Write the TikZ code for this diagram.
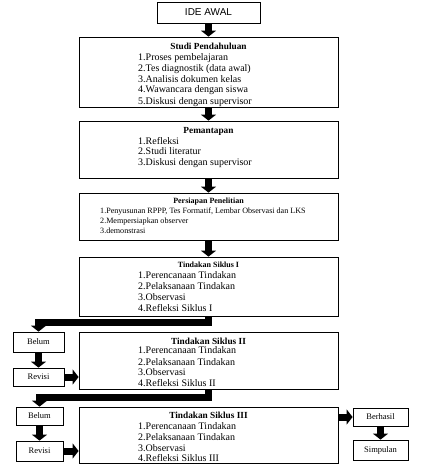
\documentclass[tikz,border=0pt]{standalone}
\usepackage{fontspec}
\setmainfont{Liberation Serif}
\newfontfamily\arialfont{Liberation Sans}
\usetikzlibrary{arrows.meta}
\tikzset{
  box/.style={draw=black, line width=0.8pt, inner sep=0pt, fill=white},
  fat/.style={line width=7pt, line join=miter, -{Triangle[width=15pt 0 0,length=6pt 0 0]}},
  ttl/.style={inner sep=0pt, anchor=base, font=\bfseries\fontsize{9.3}{11}\selectfont},
  ttlsm/.style={inner sep=0pt, anchor=base, font=\bfseries\fontsize{8}{9}\selectfont},
  item/.style={inner sep=0pt, anchor=base west, font=\fontsize{10}{12}\selectfont},
  itemsm/.style={inner sep=0pt, anchor=base west, font=\fontsize{8.1}{9}\selectfont},
  small/.style={font=\fontsize{8.5}{9}\selectfont}
}
\begin{document}
\begin{tikzpicture}[x=1pt,y=-1pt]
\useasboundingbox (0,0) rectangle (421,475);
% boxes
\node[box, minimum width=103pt, minimum height=21pt, font=\arialfont\fontsize{10}{12}\selectfont] (ide) at (208.5,12.5) {IDE AWAL};
\node[box, minimum width=259pt, minimum height=70pt] (studi) at (208.5,72) {};
\node[box, minimum width=259pt, minimum height=57pt] (peman) at (208.5,149.5) {};
\node[box, minimum width=259pt, minimum height=47pt] (persi) at (208.5,216.5) {};
\node[box, minimum width=259pt, minimum height=59pt] (t1) at (208.5,286.5) {};
\node[box, minimum width=259pt, minimum height=57pt] (t2) at (208.5,360.5) {};
\node[box, minimum width=259pt, minimum height=56pt] (t3) at (208.5,435) {};
\node[box, small, minimum width=51pt, minimum height=20pt] (belum1) at (38.5,342) {Belum};
\node[box, small, minimum width=51pt, minimum height=18pt] (revisi1) at (38.5,377) {Revisi};
\node[box, small, minimum width=47pt, minimum height=18pt] (belum2) at (39.5,416) {Belum};
\node[box, small, minimum width=47pt, minimum height=20pt] (revisi2) at (39.5,451) {Revisi};
\node[box, small, minimum width=55pt, minimum height=18pt] (berhasil) at (380.5,417) {Berhasil};
\node[box, small, minimum width=55pt, minimum height=20pt] (simpulan) at (380.5,450) {Simpulan};
% Studi Pendahuluan
\node[ttl] (studiT) at (208.5,49.5) {Studi Pendahuluan};
\node[item] (s1) at (138,60.5) {1.Proses pembelajaran};
\node[item] (s2) at (138,71.5) {2.Tes diagnostik (data awal)};
\node[item] (s3) at (138,82.5) {3.Analisis dokumen kelas};
\node[item] (s4) at (138,92.5) {4.Wawancara dengan siswa};
\node[item] (s5) at (138,104) {5.Diskusi dengan supervisor};
% Pemantapan
\node[ttl] (pemT) at (208.5,133.5) {Pemantapan};
\node[item] (p1) at (138,144.5) {1.Refleksi};
\node[item] (p2) at (138,154.5) {2.Studi literatur};
\node[item] (p3) at (138,165.5) {3.Diskusi dengan supervisor};
% Persiapan
\node[ttlsm] (perT) at (208.5,203.5) {Persiapan Penelitian};
\node[itemsm] (r1) at (100,213.5) {1.Penyusunan RPPP, Tes Formatif, Lembar Observasi dan LKS};
\node[itemsm] (r2) at (100,223.5) {2.Mempersiapkan observer};
\node[itemsm] (r3) at (100,233.5) {3.demonstrasi};
% Siklus I
\node[ttlsm] (t1T) at (208.5,267.5) {Tindakan Siklus I};
\node[item] (a1) at (138,278.5) {1.Perencanaan Tindakan};
\node[item] (a2) at (138,289.5) {2.Pelaksanaan Tindakan};
\node[item] (a3) at (138,300.5) {3.Observasi};
\node[item] (a4) at (138,311.5) {4.Refleksi Siklus I};
% Siklus II
\node[ttl] (t2T) at (208.5,344.5) {Tindakan Siklus II};
\node[item] (b1) at (138,353.5) {1.Perencanaan Tindakan};
\node[item] (b2) at (138,365.5) {2.Pelaksanaan Tindakan};
\node[item] (b3) at (138,375.5) {3.Observasi};
\node[item] (b4) at (138,386.5) {4.Refleksi Siklus II};
% Siklus III
\node[ttl] (t3T) at (208.5,418.5) {Tindakan Siklus III};
\node[item] (c1) at (138,429.5) {1.Perencanaan Tindakan};
\node[item] (c2) at (138,440.5) {2.Pelaksanaan Tindakan};
\node[item] (c3) at (138,451.5) {3.Observasi};
\node[item] (c4) at (138,461.5) {4.Refleksi Siklus III};
% arrows
\draw[fat] (ide.south) -- (studi.north);
\draw[fat] (studi.south) -- (peman.north);
\draw[fat] (peman.south) -- (persi.north);
\draw[fat] (persi.south) -- (t1.north);
\draw[fat] (t1.south) -- ++(0,6) -| (belum1.north);
\draw[fat] (belum1.south) -- (revisi1.north);
\draw[fat] (revisi1.east) -- (t2.west |- revisi1.east);
\draw[fat] (t2.south) -- ++(0,8) -| (belum2.north);
\draw[fat] (belum2.south) -- (revisi2.north);
\draw[fat] (revisi2.east) -- (t3.west |- revisi2.east);
\draw[fat] (t3.east |- berhasil.west) -- (berhasil.west);
\draw[fat] (berhasil.south) -- (simpulan.north);
\end{tikzpicture}
\end{document}
